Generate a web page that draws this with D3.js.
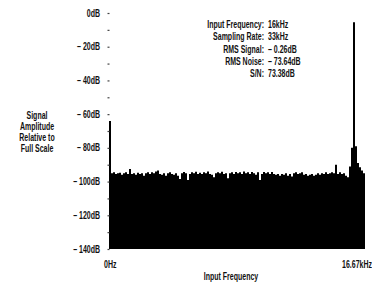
<!DOCTYPE html>
<html>
<head>
<meta charset="utf-8">
<script src="https://cdn.jsdelivr.net/npm/d3@7"></script>
<style>
  html, body { margin: 0; padding: 0; background: #fff; }
  svg { display: block; }
  text { font-family: "Liberation Sans", Arial, sans-serif; fill: #111; font-weight: bold; font-size: 10px; }
</style>
</head>
<body>
<svg id="chart" width="372" height="282"></svg>
<script>
// ---- data ----
const maxFreqKHz = 16.67;
const yTicks = [0, -20, -40, -60, -80, -100, -120, -140];
const yMinorTicks = [-10, -30, -50, -70, -90, -110, -130];
const yTickLabels = ["0dB", "\u2013 20dB", "\u2013 40dB", "\u2013 60dB", "\u2013 80dB", "\u2013 100dB", "\u2013 120dB", "\u2013 140dB"];
const xTickLabels = ["0Hz", "16.67kHz"];
const yAxisTitle = ["Signal", "Amplitude", "Relative to", "Full Scale"];
const xAxisTitle = "Input Frequency";
const infoLabels = ["Input Frequency:", "Sampling Rate:", "RMS Signal:", "RMS Noise:", "S/N:"];
const infoValues = ["16kHz", "33kHz", "\u2013 0.26dB", "\u2013 73.64dB", "73.38dB"];
// FFT bin levels (dB relative to full scale), 128 equally spaced bins from 0 to 16.67 kHz
const binDb = [
  -64, -95, -94.5, -95.5, -95, -94.8, -96, -95, -94.5, -95.5,
  -92.5, -95.5, -95, -96, -94.8, -95.5, -95, -96.5, -95, -94.5,
  -95.5, -94.5, -95, -94, -93.5, -95.5, -96, -95, -96.5, -95,
  -94.5, -95.5, -96, -95, -96.5, -98.5, -95, -94.3, -95, -99,
  -95.5, -94.5, -95, -94.2, -95.5, -94.8, -95.5, -94.5, -95, -94,
  -95.5, -96, -97.5, -95, -94.5, -95, -94.2, -95.5, -95, -98,
  -95, -94.5, -95.5, -94.3, -95, -94.5, -95.5, -94, -95, -94.5,
  -95.5, -94.3, -95, -96, -94.5, -99, -95.5, -94.3, -95, -94.5,
  -95.5, -94.3, -95.5, -96, -95.5, -96.5, -95.5, -96, -95, -96.5,
  -95.5, -97, -95, -94.5, -95.5, -95, -94.5, -96, -95.5, -96.5,
  -96, -95.5, -96.5, -96, -95, -96, -95, -95.5, -94.5, -95.5,
  -95, -94.5, -95, -90, -95.5, -94.5, -95.5, -95, -96.5, -97.5,
  -91, -80, -5.5, -79, -89, -91.5, -93.5, -95
];

// ---- chart ----
const svg = d3.select("#chart");
const plot = { left: 109, right: 365, top: 13, bottom: 249 };
const binWidth = maxFreqKHz / binDb.length;
const SX = 0.7; // condensed typeface look

const x = d3.scaleLinear().domain([0, maxFreqKHz]).range([plot.left, plot.right]);
const y = d3.scaleLinear().domain([0, -140]).range([plot.top, plot.bottom]);

function label(g, tx, ty, str, anchor, dy) {
  return g.append("text")
    .attr("transform", `translate(${tx},${ty}) scale(${SX},1)`)
    .attr("text-anchor", anchor || "start")
    .attr("dy", dy || 0)
    .text(str);
}

const pts = binDb.map((v, i) => ({ f: i * binWidth, v }));
pts.push({ f: maxFreqKHz, v: binDb[binDb.length - 1] });

const area = d3.area()
  .x(d => x(d.f))
  .y0(y(-140))
  .y1(d => y(d.v))
  .curve(d3.curveStepAfter);

svg.append("path")
  .datum(pts)
  .attr("d", area)
  .attr("fill", "#000");

// y axis ticks (no domain line)
const yAxis = d3.axisRight(y)
  .tickValues(yTicks.concat(yMinorTicks))
  .tickSize(2)
  .tickFormat("");
const gy = svg.append("g").attr("transform", `translate(${plot.left - 1.5},0)`).call(yAxis);
gy.select(".domain").remove();
gy.selectAll(".tick line").attr("stroke", "#444").attr("stroke-width", 1.2);

// y tick labels
const gyl = svg.append("g");
yTicks.forEach((d, i) => label(gyl, 100, y(d), yTickLabels[i], "end", "0.35em"));

// x tick labels
label(svg, x(0) - 5, 268, xTickLabels[0], "start");
label(svg, 372, 268, xTickLabels[1], "end");

// axis titles
label(svg, 231, 280, xAxisTitle, "middle");
yAxisTitle.forEach((d, i) => label(svg, 37, 119 + i * 11, d, "middle"));

// info block
infoLabels.forEach((d, i) => label(svg, 264, 28 + i * 12.3, d, "end"));
infoValues.forEach((d, i) => label(svg, 268, 28 + i * 12.3, d, "start"));
</script>
</body>
</html>
